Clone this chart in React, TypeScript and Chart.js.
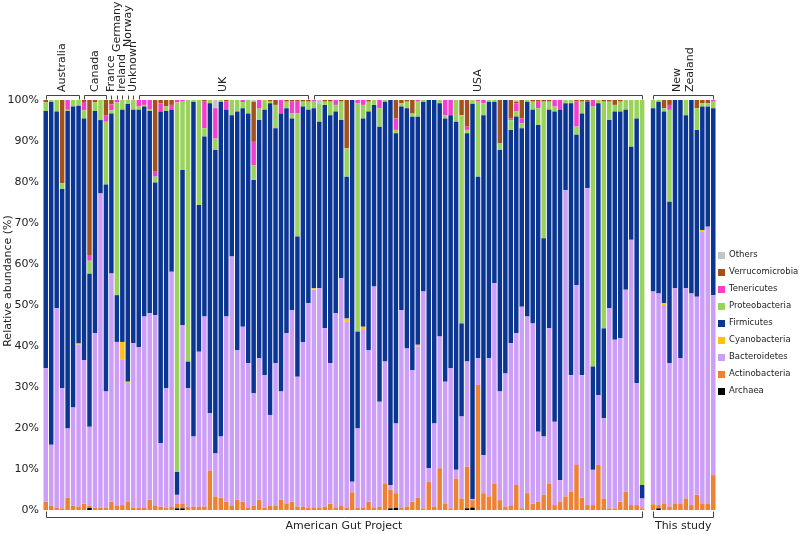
import React, { useEffect, useRef } from "react";
import { Chart, registerables } from "chart.js";

Chart.register(...registerables);

// ---- groups (index ranges of bars) ----
const topGroups = [
  { name: "Australia", start: 0, end: 6 },
  { name: "Canada", start: 7, end: 11 },
  { name: "France", start: 12, end: 12 },
  { name: "Germany", start: 13, end: 13 },
  { name: "Ireland", start: 14, end: 14 },
  { name: "Norway", start: 15, end: 15 },
  { name: "Unknown", start: 16, end: 16 },
  { name: "UK", start: 17, end: 48 },
  { name: "USA", start: 49, end: 109 },
  { name: "New Zealand", start: 111, end: 122 },
];
const bottomGroups = [
  { name: "American Gut Project", start: 0, end: 109 },
  { name: "This study", start: 111, end: 122 },
];
const yTicks = [0, 10, 20, 30, 40, 50, 60, 70, 80, 90, 100];

// ---- series (bottom to top); index 110 is the gap between panels ----
const archaea = [
  0, 0, 0, 0, 0, 0, 0, 0, 0.5, 0,
  0, 0, 0, 0, 0, 0, 0, 0, 0, 0,
  0, 0, 0, 0, 0.4, 0.4, 0, 0, 0, 0,
  0, 0, 0, 0, 0, 0, 0, 0, 0, 0,
  0, 0, 0, 0, 0, 0, 0, 0, 0, 0,
  0, 0, 0, 0, 0, 0, 0, 0, 0, 0,
  0, 0, 0, 0.4, 0.5, 0, 0, 0, 0, 0,
  0, 0, 0, 0, 0, 0, 0, 0.4, 0.6, 0,
  0, 0, 0, 0, 0, 0, 0, 0, 0, 0,
  0, 0, 0, 0, 0, 0, 0, 0, 0, 0,
  0, 0, 0, 0, 0, 0, 0, 0, 0, 0,
  null,
  0, 0.4, 0, 0, 0, 0, 0, 0, 0, 0, 0, 0,
];
const actinobacteria = [
  2, 1, 0.5, 0.4, 3, 1, 0.8, 1.5, 0.5, 0.6,
  0.6, 0.6, 2, 1, 1.2, 2, 0.5, 0.6, 0.5, 2.5,
  1, 0.8, 0.6, 0.8, 1.2, 1.2, 0.8, 0.8, 0.8, 0.8,
  9.6, 3.3, 3, 2, 1, 2.5, 2, 0.5, 1, 2.5,
  0.6, 1, 1, 2.5, 1.6, 2, 0.8, 0.8, 0.6, 0.5,
  0.5, 0.8, 1.5, 0.5, 1, 0.5, 4.3, 0.5, 0.5, 2,
  0.5, 0.8, 6.5, 4.5, 3.6, 0.5, 0.8, 2, 3, 0.4,
  6.9, 0.8, 10.2, 1.6, 0.4, 7.7, 2.8, 10.2, 1.8, 30.5,
  4.1, 3.3, 6.5, 2.4, 0.8, 1, 6.1, 0.4, 4.1, 1.5,
  2, 3.7, 6.5, 1.2, 2, 3.3, 4.5, 11, 3, 1.2,
  1.2, 11, 2.8, 0.4, 0.4, 2, 4.5, 1.2, 1.2, 0.4,
  null,
  1.4, 0.8, 1.6, 0.8, 1.6, 1.6, 2.8, 1.2, 3.7, 1.6, 1.6, 8.5,
];
const bacteroidetes = [
  32.6, 14.9, 48.7, 29.3, 16.9, 24, 39.5, 35.1, 19.3, 42.5,
  76.6, 28.3, 55.7, 40, 35.4, 29, 40.2, 39.1, 46.7, 45.5,
  46.5, 15.5, 29.1, 57.3, 2.1, 43.5, 28.9, 17.1, 37.8, 46.4,
  14, 10.5, 14.9, 45.2, 60.8, 36.5, 42.7, 35.3, 27.5, 34.5,
  32.3, 22.2, 34.8, 26.4, 41.5, 46.8, 31.7, 40.2, 49.8, 53.3,
  53.6, 43.5, 34.3, 47.5, 55.5, 45.4, 2.6, 19.4, 43.4, 37,
  54, 25.6, 29.7, 1.2, 17, 48.3, 38.6, 32.1, 36.9, 52.9,
  3.3, 20.3, 32.1, 29.7, 34.2, 2.1, 20, 25.6, 0.3, 6.5,
  9.3, 33.7, 48.8, 26.5, 32.5, 39.7, 37, 49.2, 43.1, 44,
  17.1, 14.2, 37.8, 20.3, 5.3, 74.7, 28.4, 43.9, 29.9, 77.3,
  8.6, 17, 19.6, 48.8, 41.1, 39.9, 49.2, 64.7, 29.7, 2.4,
  null,
  51.9, 51.6, 48.4, 35, 52.5, 35.4, 51.3, 51.6, 48.3, 66.3, 67.5, 43.9,
];
const cyanobacteria = [
  0, 0, 0, 0, 0, 0, 0.3, 0, 0, 0,
  0, 0, 0, 0, 4.4, 0.3, 0, 0, 0, 0,
  0, 0, 0, 0, 0, 0, 0, 0, 0, 0,
  0, 0, 0, 0, 0, 0, 0, 0, 0, 0,
  0, 0, 0, 0, 0, 0, 0, 0, 0, 0.3,
  0, 0, 0, 0, 0, 0.8, 0, 0, 0.8, 0,
  0, 0, 0, 0, 0, 0, 0, 0, 0.4, 0,
  0, 0, 0, 0, 0, 0, 0, 0, 0, 0,
  0, 0, 0, 0, 0, 0, 0, 0, 0, 0,
  0, 0, 0, 0, 0, 0, 0, 0, 0, 0,
  0, 0, 0, 0, 0, 0, 0, 0, 0, 0,
  null,
  0, 0, 0.4, 0, 0, 0, 0, 0, 0, 0.4, 0, 0,
];
const firmicutes = [
  62.7, 83.7, 48, 48.6, 77.4, 73.4, 58, 58.9, 37.3, 54.2,
  17.9, 50.5, 39, 11.4, 56.6, 67.7, 56.9, 57.9, 51.2, 49.3,
  32.4, 80.9, 67.6, 39.5, 5.6, 37.8, 6.5, 81.7, 35.8, 43.9,
  75.6, 74, 81.7, 50.4, 34.5, 58.2, 53.3, 60.9, 52, 58.1,
  64.7, 76, 57.3, 67.8, 54.9, 46.7, 34.2, 57.4, 47.2, 43.9,
  40.6, 54.5, 60.5, 49.2, 38.6, 34.6, 93.1, 23.6, 50.8, 58.2,
  44.3, 67.1, 63.4, 93.9, 70.8, 49.6, 58.6, 61.8, 55.6, 46.3,
  89.8, 78.9, 56.9, 64.2, 61.7, 84.9, 22.7, 55.7, 96.4, 44.3,
  82.9, 62.6, 44.3, 58.9, 66.7, 52, 52.9, 43.5, 52.4, 52.1,
  74.8, 48.4, 53.3, 75.7, 90.3, 21.2, 66.3, 36.6, 63.8, 21.1,
  25.2, 71.2, 21.9, 45.9, 55.7, 55.3, 43.9, 22.7, 64.6, 3.3,
  null,
  44.7, 46.8, 46.8, 39.4, 45.9, 63, 42.2, 47.2, 40.7, 30.1, 29.3, 45.6,
];
const proteobacteria = [
  2.2, 0.4, 2.8, 1.4, 0.3, 1.6, 1.4, 2, 3.2, 2.2,
  4.9, 15.3, 0.8, 47, 2.4, 1, 2.4, 0.8, 0.4, 0.5,
  1.4, 0, 1.2, 0, 90.1, 16.7, 63.8, 0.4, 25.6, 2,
  0.8, 2.8, 0.4, 0, 3.7, 2.8, 1.5, 3.3, 3.6, 2.8,
  2.4, 0.4, 5.7, 0, 1.6, 1.2, 30, 1.2, 2, 1.6,
  4.5, 0.8, 3.3, 1.6, 4.5, 6.9, 0, 55.7, 3.3, 2.4,
  1.2, 4.5, 0.4, 0, 0.8, 0.8, 1.6, 0.8, 3.7, 0.4,
  0, 0, 0.8, 0.8, 0, 5.3, 50.8, 0.8, 1.2, 18.3,
  2.9, 0.4, 0.4, 1.6, 0, 2.4, 1.2, 1.2, 0.4, 2,
  4.1, 33.3, 2, 1.2, 0, 0.8, 0.8, 2, 2.9, 0,
  63.4, 0.8, 55.3, 4.5, 1.6, 2.4, 2.4, 11.4, 4.5, 93.9,
  null,
  2, 0.4, 0.8, 22.4, 0, 0, 3.7, 0, 5.3, 0.8, 0.8, 1.6,
];
const tenericutes = [
  0, 0, 0, 0, 2.4, 0, 0, 2, 1.4, 0,
  0, 1.6, 1.4, 0.6, 0, 0, 0, 1.6, 1.2, 2.2,
  1.2, 2, 0, 1.2, 0.6, 0.4, 0, 0, 0, 6.5,
  0, 7.4, 0, 2, 0, 0, 0.5, 0, 5.7, 2.1,
  0, 0, 0, 3.3, 0, 2.9, 2.9, 0, 0, 0.4,
  0, 0, 0, 1.2, 0, 0, 0, 0.8, 1.2, 0,
  0, 2, 0, 0, 2.8, 0, 0, 0, 0.4, 0,
  0, 0, 0, 3.7, 3.7, 0, 0, 0.8, 0, 0.4,
  0.8, 0, 0, 0, 0, 0.4, 2, 1.2, 0, 0,
  1.6, 0, 0, 1.6, 2.4, 0, 0, 6.1, 0, 0,
  1.6, 0, 0, 0, 0, 0, 0, 0, 0, 0,
  null,
  0, 0, 0, 1.2, 0, 0, 0, 0, 0, 0, 0, 0.4,
];
const verrucomicrobia = [
  0.5, 0, 0, 20.3, 0, 0, 0, 0.5, 37.8, 0.5,
  0, 3.7, 1.1, 0, 0, 0, 0, 0, 0, 0,
  17.5, 0.8, 1.5, 1.2, 0, 0, 0, 0, 0, 0.4,
  0, 0, 0, 0.4, 0, 0, 0, 0, 9.8, 0,
  0, 0.4, 1.2, 0, 0.4, 0.4, 0.4, 0.4, 0.4, 0,
  0, 0.4, 0.4, 0, 0.4, 11.8, 0, 0, 0, 0.4,
  0, 0, 0, 0, 4.5, 0.8, 0.4, 3.3, 0, 0,
  0, 0, 0, 0, 0, 0, 3.7, 6.5, 0, 0,
  0, 0, 0, 10.6, 0, 4.5, 0.4, 4.5, 0, 0.4,
  0.4, 0.4, 0.4, 0, 0, 0, 0, 0.4, 0.4, 0.4,
  0, 0, 0.4, 0.4, 1.2, 0.4, 0, 0, 0, 0,
  null,
  0, 0, 2, 1.2, 0, 0, 0, 0, 2, 0.8, 0.8, 0,
];
const others = [
  0, 0, 0, 0, 0, 0, 0, 0, 0, 0,
  0, 0, 0, 0, 0, 0, 0, 0, 0, 0,
  0, 0, 0, 0, 0, 0, 0, 0, 0, 0,
  0, 2, 0, 0, 0, 0, 0, 0, 0.4, 0,
  0, 0, 0, 0, 0, 0, 0, 0, 0, 0,
  0.8, 0, 0, 0, 0, 0, 0, 0, 0, 0,
  0, 0, 0, 0, 0, 0, 0, 0, 0, 0,
  0, 0, 0, 0, 0, 0, 0, 0, 0, 0,
  0, 0, 0, 0, 0, 0, 0.4, 0, 0, 0,
  0, 0, 0, 0, 0, 0, 0, 0, 0, 0,
  0, 0, 0, 0, 0, 0, 0, 0, 0, 0,
  null,
  0, 0, 0, 0, 0, 0, 0, 0, 0, 0, 0, 0,
];

const seriesNames = [
  "Archaea", "Actinobacteria", "Bacteroidetes", "Cyanobacteria", "Firmicutes",
  "Proteobacteria", "Tenericutes", "Verrucomicrobia", "Others",
];
const seriesData = [
  archaea, actinobacteria, bacteroidetes, cyanobacteria, firmicutes,
  proteobacteria, tenericutes, verrucomicrobia, others,
];
const seriesColors = [
  "#000000", "#ee8133", "#cc9ef7", "#fdc010", "#0b3592",
  "#99d35b", "#f43fce", "#a3511c", "#c4c4c4",
];

// category labels built from the groups
const categories: string[] = [];
for (let i = 0; i < archaea.length; i++) {
  const g = topGroups.find((t) => i >= t.start && i <= t.end);
  categories.push(g ? g.name : "");
}

const FONT = "DejaVu Sans";
const TEXT = "#222";
const raisedLabelBottom: Record<string, number> = { Germany: 52, Norway: 47 };

const annotations = {
  id: "annotations",
  afterDraw(chart: any) {
    const ctx = chart.ctx as CanvasRenderingContext2D;
    const xs = chart.scales.x;
    const area = chart.chartArea;
    ctx.save();
    ctx.strokeStyle = "#444";
    ctx.lineWidth = 1;
    ctx.fillStyle = TEXT;
    ctx.font = `11px "${FONT}"`;

    // top brackets and rotated labels
    topGroups.forEach((g) => {
      const x0 = Math.round(xs.getPixelForValue(g.start)) + 0.5;
      const x1 = Math.round(xs.getPixelForValue(g.end)) + 0.5;
      const yl = area.top - 4.5;
      const yt = area.top - 0.5;
      ctx.beginPath();
      if (g.start === g.end) {
        ctx.moveTo(x0, yl);
        ctx.lineTo(x0, yt);
      } else {
        ctx.moveTo(x0, yt);
        ctx.lineTo(x0, yl);
        ctx.lineTo(x1, yl);
        ctx.lineTo(x1, yt);
      }
      ctx.stroke();
      const cx = (xs.getPixelForValue(g.start) + xs.getPixelForValue(g.end)) / 2;
      const bottom = raisedLabelBottom[g.name] ?? area.top - 8;
      const lines = g.name === "New Zealand" ? ["New", "Zealand"] : [g.name];
      lines.forEach((ln, i) => {
        const off = (i - (lines.length - 1) / 2) * 13;
        ctx.save();
        ctx.translate(cx + off, bottom);
        ctx.rotate(-Math.PI / 2);
        ctx.textAlign = "left";
        ctx.textBaseline = "middle";
        ctx.fillText(ln, 0, 0);
        ctx.restore();
      });
    });

    // bottom brackets and labels
    bottomGroups.forEach((g) => {
      const x0 = Math.round(xs.getPixelForValue(g.start)) + 0.5;
      const x1 = Math.round(xs.getPixelForValue(g.end)) + 0.5;
      const yt = area.bottom + 1.5;
      const yl = area.bottom + 7.5;
      ctx.beginPath();
      ctx.moveTo(x0, yt);
      ctx.lineTo(x0, yl);
      ctx.lineTo(x1, yl);
      ctx.lineTo(x1, yt);
      ctx.stroke();
      const cx = (xs.getPixelForValue(g.start) + xs.getPixelForValue(g.end)) / 2;
      ctx.textAlign = "center";
      ctx.textBaseline = "middle";
      ctx.fillText(g.name, cx, area.bottom + 16);
    });

    // y axis title
    ctx.save();
    ctx.translate(8, 281);
    ctx.rotate(-Math.PI / 2);
    ctx.textAlign = "center";
    ctx.textBaseline = "middle";
    ctx.fillText("Relative abundance (%)", 0, 0);
    ctx.restore();

    // legend (top = Others ... bottom = Archaea)
    ctx.font = `8.5px "${FONT}"`;
    ctx.textAlign = "left";
    ctx.textBaseline = "middle";
    for (let i = seriesNames.length - 1, row = 0; i >= 0; i--, row++) {
      const y = 255 + row * 17;
      ctx.fillStyle = seriesColors[i];
      ctx.fillRect(718, y - 3, 7, 7);
      ctx.fillStyle = TEXT;
      ctx.fillText(seriesNames[i], 729, y);
    }
    ctx.restore();
  },
};

export default function App() {
  const ref = useRef<HTMLCanvasElement>(null);
  useEffect(() => {
    const chart = new Chart(ref.current as HTMLCanvasElement, {
      type: "bar",
      data: {
        labels: categories,
        datasets: seriesNames.map((name, i) => ({
          label: name,
          data: seriesData[i],
          backgroundColor: seriesColors[i],
          borderWidth: 0,
          barPercentage: 0.82,
          categoryPercentage: 1,
        })),
      },
      options: {
        responsive: false,
        animation: false,
        devicePixelRatio: 1,
        layout: { padding: { left: 8, right: 84, top: 100, bottom: 24 } },
        plugins: { legend: { display: false }, tooltip: { enabled: false } },
        scales: {
          x: { stacked: true, display: false },
          y: {
            stacked: true,
            min: 0,
            max: 100,
            afterFit: (s: any) => {
              s.width = 35;
            },
            afterBuildTicks: (s: any) => {
              s.ticks = yTicks.map((v) => ({ value: v }));
            },
            ticks: {
              callback: (v: any) => v + "%",
              font: { family: FONT, size: 11 },
              color: TEXT,
              padding: 4,
            },
            grid: { display: false, drawTicks: false },
            border: { display: false },
          },
        },
      },
      plugins: [annotations],
    });
    return () => chart.destroy();
  }, []);
  return (
    <div style={{ position: "absolute", left: 0, top: 0, width: 800, height: 534, background: "#fff" }}>
      <canvas ref={ref} width={800} height={534} style={{ display: "block" }} />
    </div>
  );
}
